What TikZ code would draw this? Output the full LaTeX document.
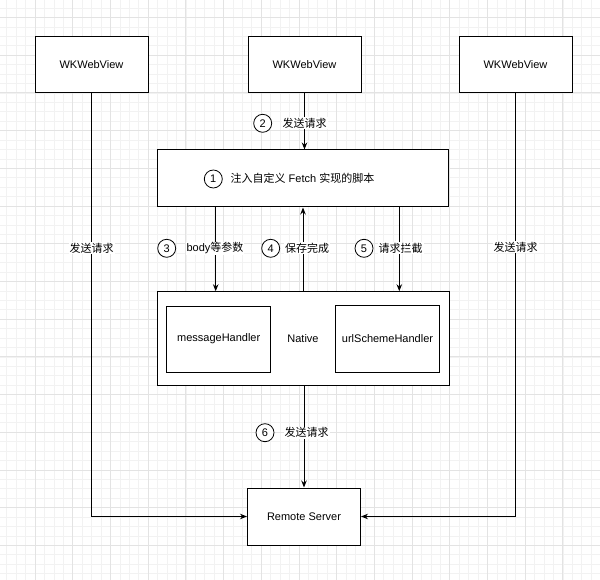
\documentclass[tikz,border=0pt]{standalone}
\usepackage{fontspec}
\setmainfont{Liberation Sans}
\newfontfamily\cjk{Noto Sans CJK SC}
\usetikzlibrary{arrows.meta}

\tikzset{
  box/.style={draw, line width=1pt, fill=white, minimum width=113pt, minimum height=56pt, inner sep=0pt},
  num/.style={draw, circle, line width=0.8pt, minimum size=18pt, inner sep=0pt, fill=white},
  lbl/.style={fill=white, inner sep=1pt},
  arr/.style={line width=1pt, -{Stealth[length=7pt,width=5.5pt]}},
  minorline/.style={color=black!5, line width=0.6pt},
  majorline/.style={color=black!11, line width=0.8pt},
}

\begin{document}
\begin{tikzpicture}[x=1pt, y=-1pt, font=\fontsize{11pt}{13pt}\selectfont]
        \useasboundingbox (0,0) rectangle (600,580);

        % grid
        \begin{scope}
        \clip (0,0) rectangle (600,580);
        \fill[white] (0,0) rectangle (600,580);
        \foreach \i in {0,...,64} {
            \draw[minorline] ({-2.7+9.425*\i},0) -- ++(0,580);
            \draw[minorline] (0,{-20.2+9.425*\i}) -- ++(600,0);
        }
        \foreach \i in {0,...,16} {
            \draw[majorline] ({-2.7+37.7*\i},0) -- ++(0,580);
            \draw[majorline] (0,{-20.2+37.7*\i}) -- ++(600,0);
        }
        \end{scope}

        % boxes
        \node[box] (wv1) at (91.5,65) {WKWebView};
        \node[box] (wv2) at (304.5,65) {WKWebView};
        \node[box] (wv3) at (515.5,65) {WKWebView};
        \node[box, minimum width=291pt, minimum height=57pt] (fetch) at (302.5,178.5)
            {{\cjk 注入自定义} Fetch {\cjk 实现的脚本}};
        \node[box, minimum width=292pt, minimum height=93.5pt] (native) at (303,338.5) {Native};
        \node[box, minimum width=104pt, minimum height=66pt] (msg) at (218.7,339) {messageHandler};
        \node[box, minimum width=103.6pt, minimum height=67pt] (url) at (387.5,338.5) {urlSchemeHandler};
        \node[box, minimum height=57pt] (server) at (304,516.5) {Remote Server};

        % connectors
        \draw[arr] (wv2.south) -- (wv2.south |- fetch.north);
        \draw[arr] ([xshift=-86.8pt]fetch.south) -- ([xshift=-86.8pt]fetch.south |- native.north);
        \draw[arr] (native.north) -- (native.north |- fetch.south);
        \draw[arr] ([xshift=96.8pt]fetch.south) -- ([xshift=96.8pt]fetch.south |- native.north);
        \draw[arr] (native.south -| server.north) -- (server.north);
        \draw[arr] (wv1.south) |- (server.west);
        \draw[arr] (wv3.south) |- (server.east);

        % labels
        \node[num] (n1) at (213.3,179) {1};
        \node[num] (n2) at (262.7,123.3) {2};
        \node[lbl] (l2) at (304.5,123.3) {\cjk 发送请求};
        \node[lbl] (l3) at (215,248.3) {body{\cjk 等参数}};
        \node[num] (n3) at (166.7,248.3) {3};
        \node[lbl] (l4) at (307,248.3) {\cjk 保存完成};
        \node[num] (n4) at (270.7,248.3) {4};
        \node[lbl] (l5) at (400.5,248.3) {\cjk 请求拦截};
        \node[num] (n5) at (364,248.3) {5};
        \node[lbl] (l6) at (306.5,432.7) {\cjk 发送请求};
        \node[num] (n6) at (265,432.7) {6};
        \node[lbl] (l7) at (91.5,248.3) {\cjk 发送请求};
        \node[lbl] (l8) at (515.5,247) {\cjk 发送请求};
    \end{tikzpicture}
\end{document}
